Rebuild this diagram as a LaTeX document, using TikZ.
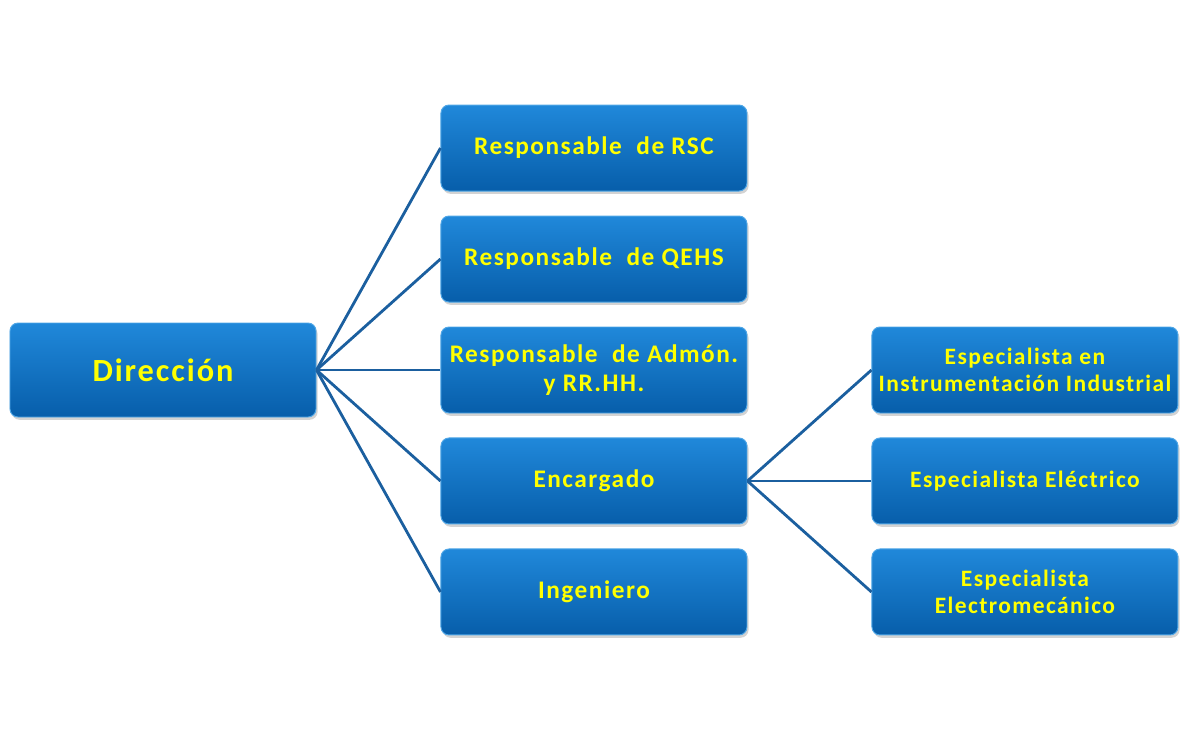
\documentclass[tikz,border=0pt]{standalone}
\usepackage{fontspec}
\setmainfont{Carlito}[LetterSpace=6]
\usepackage{tikz}
\usetikzlibrary{positioning, shadows}
\definecolor{boxtop}{HTML}{2088DA}
\definecolor{boxmid}{HTML}{0A6FC2}
\definecolor{boxbot}{HTML}{075EAA}
\definecolor{boxedge}{HTML}{4FA6E6}
\definecolor{linkblue}{HTML}{1B5F9F}
\definecolor{txtyellow}{HTML}{FFFF00}

\begin{document}
\begin{tikzpicture}[font=\bfseries\fontsize{18}{21}\selectfont, node distance=0.6cm,
    puesto/.style={draw=boxedge, line width=0.7pt, rounded corners=0.2cm, top color=boxtop, middle color=boxmid, bottom color=boxbot,
        text=txtyellow, minimum width=7.65cm, minimum height=2.15cm, align=center,
        drop shadow={opacity=0.35, shadow xshift=0.04cm, shadow yshift=-0.07cm}},
    especialista/.style={puesto, font=\bfseries\fontsize{16.7}{19.5}\selectfont},
    enlace/.style={draw=linkblue, line width=2pt}]
    \useasboundingbox (-4.075,-9.25) rectangle (25.925,9.25);

    \node[puesto, minimum height=2.35cm, font=\bfseries\fontsize{23}{26}\selectfont] (dir) {Direcci\'on};

    \node[puesto, right=3.1cm of dir] (adm) {Responsable\ \ de Adm\'on.\\y RR.HH.};
    \node[puesto, above=of adm] (qehs) {Responsable\ \ de QEHS};
    \node[puesto, above=of qehs] (rsc) {Responsable\ \ de RSC};
    \node[puesto, below=of adm] (enc) {Encargado};
    \node[puesto, below=of enc] (ing) {Ingeniero};

    \node[especialista, right=3.1cm of enc] (elec) {Especialista El\'ectrico};
    \node[especialista, above=of elec] (instr) {Especialista en\\Instrumentaci\'on Industrial};
    \node[especialista, below=of elec] (emec) {Especialista\\Electromec\'anico};

    \foreach \n in {rsc, qehs, adm, enc, ing}
        \draw[enlace] (dir.east) -- (\n.west);
    \foreach \n in {instr, elec, emec}
        \draw[enlace] (enc.east) -- (\n.west);
\end{tikzpicture}
\end{document}
